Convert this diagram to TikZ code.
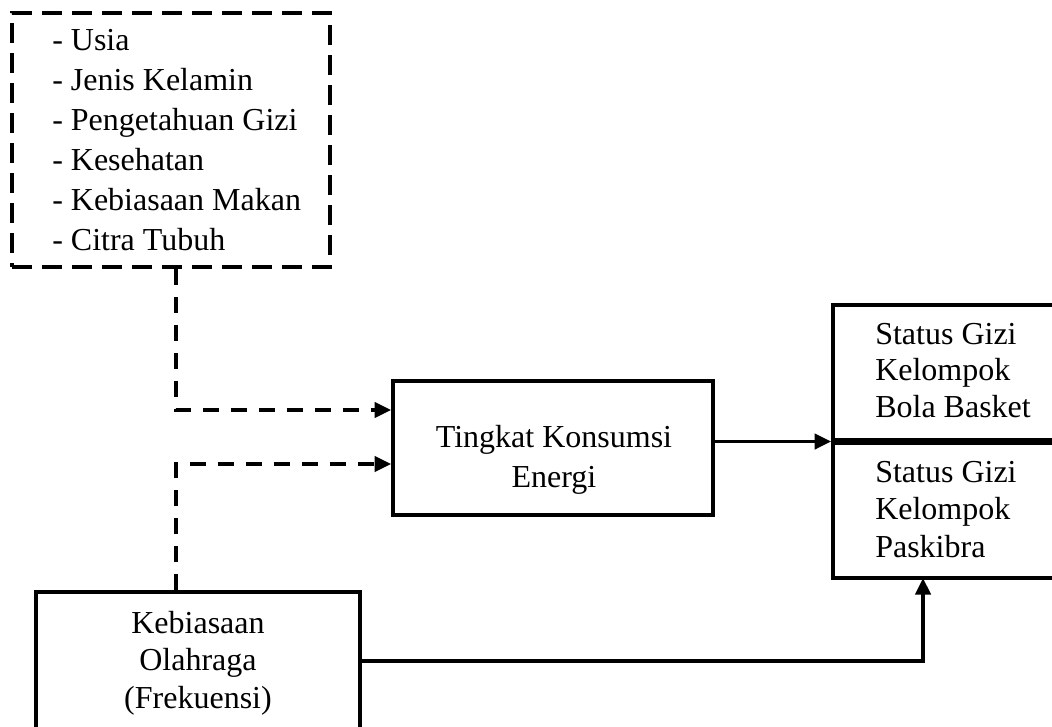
\documentclass[tikz,border=0pt]{standalone}
\usepackage{fontspec}
\setmainfont{Liberation Serif}
\usetikzlibrary{arrows.meta,calc}
\begin{document}
\begin{tikzpicture}[x=0.75pt,y=-0.75pt,
  boxs/.style={draw,line width=2.7pt,inner sep=0pt,rectangle},
  dbox/.style={boxs,dash pattern=on 15pt off 7.5pt},
  txt/.style={inner sep=0pt,font=\fontsize{24}{28}\selectfont},
  arr/.style={line width=2.7pt,-{Triangle[length=12.5pt,width=11.5pt]}},
  darr/.style={arr,dash pattern=on 12pt off 9pt},
  divider/.style={line width=5pt}]
\clip (0,0) rectangle (1052,726);
\fill[white] (0,0) rectangle (1052,726);
% boxes
\node[dbox,minimum width=318*0.75pt,minimum height=254*0.75pt] (top) at (171,140) {};
\node[txt,anchor=west,align=left,font=\fontsize{24}{30}\selectfont] (toptxt) at (52,140.4)
  {- Usia\\- Jenis Kelamin\\- Pengetahuan Gizi\\- Kesehatan\\- Kebiasaan Makan\\- Citra Tubuh};
\node[boxs,minimum width=320*0.75pt,minimum height=134*0.75pt] (tk) at (553,448) {};
\node[txt,align=center,font=\fontsize{24}{30}\selectfont] (tktxt) at (554,459.7) {Tingkat Konsumsi\\Energi};
\node[boxs,minimum width=240*0.75pt,minimum height=273*0.75pt] (sg) at (953,441.5) {};
\draw[divider] (sg.west) -- (sg.east);
\node[txt,anchor=west,align=left,font=\fontsize{24}{27.4}\selectfont] (sg1) at (875,370.5) {Status Gizi\\Kelompok\\Bola Basket};
\node[txt,anchor=west,align=left,font=\fontsize{24}{28.1}\selectfont] (sg2) at (875,509.5) {Status Gizi\\Kelompok\\Paskibra};
\node[boxs,minimum width=324*0.75pt,minimum height=138*0.75pt] (ol) at (198,661) {};
\node[txt,align=center,font=\fontsize{24}{28.1}\selectfont] (oltxt) at (198,663) {Kebiasaan\\Olahraga\\(Frekuensi)};
% connectors
\coordinate (c1) at (176,410);
\coordinate (c2) at (176,464);
\coordinate (c3) at (923,578);
\draw[darr] (top.south -| c1) |- (tk.west |- c1);
\draw[darr] (ol.north -| c2) |- (tk.west |- c2);
\draw[arr] (tk.east |- sg.west) -- (sg.west);
\draw[arr] (ol.east) -| (c3);
\end{tikzpicture}
\end{document}
